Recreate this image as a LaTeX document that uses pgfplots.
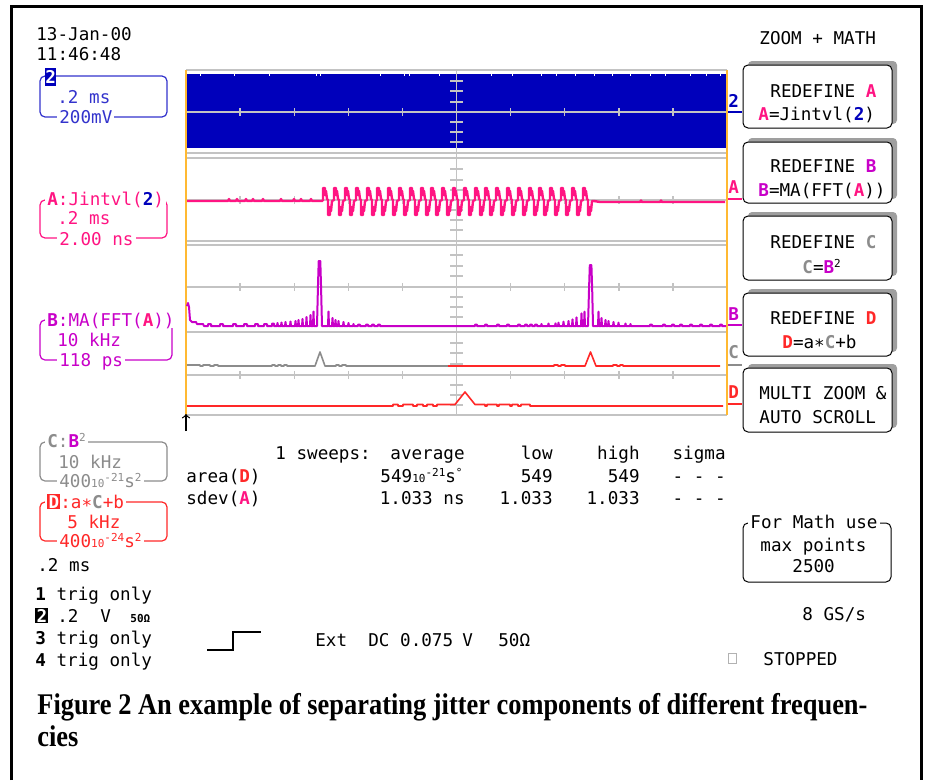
\documentclass[border=0pt]{standalone}
\usepackage{pgfplots}
\pgfplotsset{compat=1.18}
\usepackage{fontspec}
\setmainfont{DejaVu Sans Mono}
\newfontfamily\capfont[FakeStretch=0.88]{Liberation Serif}

\definecolor{chtwo}{RGB}{0,0,187}
\definecolor{labtwo}{RGB}{51,51,204}
\definecolor{cha}{RGB}{255,20,130}
\definecolor{chbp}{RGB}{200,0,200}
\definecolor{chc}{RGB}{140,140,140}
\definecolor{chd}{RGB}{255,40,40}
\definecolor{orng}{RGB}{255,185,50}
\definecolor{grd}{RGB}{195,195,195}

\newcommand{\bA}{{\bfseries\color{cha}A}}
\newcommand{\bB}{{\bfseries\color{chbp}B}}
\newcommand{\bC}{{\bfseries\color{chc}C}}
\newcommand{\bD}{{\bfseries\color{chd}D}}
\newcommand{\btwo}{{\bfseries\color{chtwo}2}}
\newcommand{\sm}[1]{{\fontsize{5.5}{6}\selectfont #1}}
\newcommand{\sps}[1]{\raisebox{2.8pt}{\sm{#1}}}
\newcommand{\inv}[2]{\colorbox{#1}{\color{white}\bfseries #2}}
\setlength{\fboxsep}{0.6pt}

% one screen pixel = one data unit, y downwards
\pgfplotsset{scr/.style={at={(0,0)}, anchor=north west, scale only axis,
  width=463.5pt, height=390pt, xmin=0, xmax=927, ymin=0, ymax=780,
  y dir=reverse, hide axis, clip=false}}

\begin{document}
\fontsize{8.8}{10}\selectfont
\begin{tikzpicture}

% channel 2: the dense signal fills its panel
\begin{axis}[scr]
\addplot[fill=chtwo, draw=none] coordinates {(187,74)(726,74)(726,148)(187,148)} -- cycle;
\end{axis}

\begin{scope}[x=0.5pt,y=-0.5pt]
\path (0,0) rectangle (927,780);
\draw[line width=1.5pt] (11,780) -- (11,6) -- (921,6) -- (921,780);
% small gaps in the top of the channel 2 envelope
\foreach \xx in {200,234,269,316,320,380,404,409,439,491,512,541,556,575,594,612,630,650,665,690,706,720}
  \draw[white, line width=0.5pt] (\xx,74) -- (\xx,76);
% panel frames
\foreach \yy in {70,153,158,241,245,332,415}
  \draw[grd, line width=1pt] (186,\yy) -- (727,\yy);
% centre lines with division ticks
\foreach \yy in {112,200,287,375} {
  \draw[grd, line width=0.7pt] (186,\yy) -- (727,\yy);
  \foreach \xx in {240.1,294.2,348.3,402.4,510.6,564.7,618.8,672.9}
    \draw[grd, line width=0.7pt] (\xx,\yy-4) -- (\xx,\yy+4);
}
\draw[grd, line width=0.7pt] (456.5,70) -- (456.5,415);
\foreach \yy in {81,91,102,122,132,142,169,180,190,210,220,230,255,266,276,297,307,317,343,353,364,385,395,405}
  \draw[grd, line width=0.7pt] (450,\yy) -- (463,\yy);
\draw[orng, line width=1pt] (186,70) -- (186,415);
\draw[orng, line width=1pt] (727,70) -- (727,415);
\end{scope}

\begin{axis}[scr]
% A: Jintvl(2)
\addplot[cha, line width=1.2pt, line join=round] coordinates {
(187,201)(228,201)(229,199)(230,201)(236,201)(237,199)(238,201)(245,201)(246,199)(247,201)
(252,201)(253,199)(254,201)(262,201)(263,199)(264,201)(280,201)(281,199)(282,201)(293,201)
(294,199)(295,201)(300,201)(301,199)(302,201)(310,201)(311,199)(312,201)(322,201)
(323,200)(323,188)(325,188)(325,195)(326,191)(327,199)(328,200)(328,215)(330,215)(330,207)(331,211)(332,201)
(334,200)(334,188)(336,188)(336,195)(337,191)(338,199)(339,200)(339,215)(341,215)(341,207)(342,211)(343,201)
(345,200)(345,188)(347,188)(347,195)(348,191)(349,199)(350,200)(350,215)(352,215)(352,207)(353,211)(354,201)
(356,200)(356,188)(358,188)(358,195)(359,191)(360,199)(361,200)(361,215)(363,215)(363,207)(364,211)(365,201)
(367,200)(367,188)(369,188)(369,195)(370,191)(371,199)(372,200)(372,215)(374,215)(374,207)(375,211)(376,201)
(377,200)(377,188)(379,188)(379,195)(380,191)(381,199)(382,200)(382,215)(384,215)(384,207)(385,211)(386,201)
(388,200)(388,188)(390,188)(390,195)(391,191)(392,199)(393,200)(393,215)(395,215)(395,207)(396,211)(397,201)
(399,200)(399,188)(401,188)(401,195)(402,191)(403,199)(404,200)(404,215)(406,215)(406,207)(407,211)(408,201)
(410,200)(410,188)(412,188)(412,195)(413,191)(414,199)(415,200)(415,215)(417,215)(417,207)(418,211)(419,201)
(421,200)(421,188)(423,188)(423,195)(424,191)(425,199)(426,200)(426,215)(428,215)(428,207)(429,211)(430,201)
(431,200)(431,188)(433,188)(433,195)(434,191)(435,199)(436,200)(436,215)(438,215)(438,207)(439,211)(440,201)
(442,200)(442,188)(444,188)(444,195)(445,191)(446,199)(447,200)(447,215)(449,215)(449,207)(450,211)(451,201)
(453,200)(453,188)(455,188)(455,195)(456,191)(457,199)(458,200)(458,215)(460,215)(460,207)(461,211)(462,201)
(464,200)(464,188)(466,188)(466,195)(467,191)(468,199)(469,200)(469,215)(471,215)(471,207)(472,211)(473,201)
(475,200)(475,188)(477,188)(477,195)(478,191)(479,199)(480,200)(480,215)(482,215)(482,207)(483,211)(484,201)
(485,200)(485,188)(487,188)(487,195)(488,191)(489,199)(490,200)(490,215)(492,215)(492,207)(493,211)(494,201)
(496,200)(496,188)(498,188)(498,195)(499,191)(500,199)(501,200)(501,215)(503,215)(503,207)(504,211)(505,201)
(507,200)(507,188)(509,188)(509,195)(510,191)(511,199)(512,200)(512,215)(514,215)(514,207)(515,211)(516,201)
(518,200)(518,188)(520,188)(520,195)(521,191)(522,199)(523,200)(523,215)(525,215)(525,207)(526,211)(527,201)
(529,200)(529,188)(531,188)(531,195)(532,191)(533,199)(534,200)(534,215)(536,215)(536,207)(537,211)(538,201)
(539,200)(539,188)(541,188)(541,195)(542,191)(543,199)(544,200)(544,215)(546,215)(546,207)(547,211)(548,201)
(550,200)(550,188)(552,188)(552,195)(553,191)(554,199)(555,200)(555,215)(557,215)(557,207)(558,211)(559,201)
(561,200)(561,188)(563,188)(563,195)(564,191)(565,199)(566,200)(566,215)(568,215)(568,207)(569,211)(570,201)
(572,200)(572,188)(574,188)(574,195)(575,191)(576,199)(577,200)(577,215)(579,215)(579,207)(580,211)(581,201)
(583,200)(583,188)(585,188)(585,195)(586,191)(587,199)(588,200)(588,215)(590,215)(590,207)(591,211)(592,201)
(594,201)(600,202)(640,202)(641,200.5)(642,202)(660,202)(661,200.5)(662,202)(725,202)
};
% B: MA(FFT(A))
\addplot[chbp, line width=1pt, line join=round] coordinates {
(187,306)(188,303)(189,307)(190,320)(192,322)(196,322)(197,324)(203,324)(204,326)
(208,326)(208,324)(211,324)(211,326)(220,326)(220,324)(223,324)(223,326)(233,326)(233,324)(236,324)(236,326)
(244,326)(244,324)(247,324)(247,326)(255,326)(255,324)(258,324)(258,326)(264,326)(264,324)(267,324)(267,326)
(272,326)(272,323.5)(274,323.5)(274,326)
(277,326)(277.5,323)(278,326)(281,326)(281.5,322.5)(282,326)(285,326)(285.5,322)(286,326)
(290,326)(290.5,321.5)(291,326)(295,326)(295.5,321)(296,326)(298,326)(298.5,320)(299,326)
(302,326)(302.5,319)(303,326)(306,326)(306.5,317)(307,326)(310,326)(310.5,315)(311,326)
(313,326)(313.5,311.5)(314,326)
(317,326)(318,285)(318.7,261)(320.3,261)(321,285)(322,326)
(328,326)(328.5,311.5)(329,326)(332,326)(332.5,318)(333,326)(335,326)(335.5,320)(336,326)
(338,326)(338.5,321)(339,326)(343,326)(343.5,322)(344,326)(348,326)(348.5,323)(349,326)
(353,326)(353.5,324)(354,326)
(358,326)(358,324.5)(360,324.5)(360,326)(366,326)(366,324.5)(368,324.5)(368,326)
(372,326)(372,324.5)(374,324.5)(374,326)(378,326)(378,324.5)(380,324.5)(380,326)
(475,326)(475,324.5)(477,324.5)(477,326)(485,326)(485,324.5)(487,324.5)(487,326)
(497,326)(497,324.5)(499,324.5)(499,326)(507,326)(507,324.5)(509,324.5)(509,326)
(518,326)(518,324.5)(520,324.5)(520,326)(525,326)(525,324.5)(527,324.5)(527,326)
(530,326)(530,324.5)(532,324.5)(532,326)(535,326)(535,324.5)(537,324.5)(537,326)
(541,326)(541.5,324)(542,326)(548,326)(548.5,323.5)(549,326)(555,326)(555.5,323.3)(556,326)
(558,326)(558.5,322.7)(559,326)(563,326)(563.5,321.7)(564,326)(568,326)(568.5,321)(569,326)
(572,326)(572.5,319.3)(573,326)(576,326)(576.5,317.3)(577,326)(581,326)(581.5,313.3)(582,326)
(584,326)(584.5,311.7)(585,326)
(588,326)(589,290)(589.8,265)(591.4,265)(592.2,290)(593,326)
(598,326)(598.5,311.7)(599,326)(601,326)(601.5,318)(602,326)(605,326)(605.5,320)(606,326)
(608,326)(608.5,321)(609,326)(613,326)(613.5,322)(614,326)(618,326)(618.5,322.7)(619,326)
(625,326)(625.5,323.5)(626,326)(630,326)(630.5,324)(631,326)
(650,326)(650,324.5)(652,324.5)(652,326)(663,326)(663,324.5)(665,324.5)(665,326)
(672,326)(672,324.5)(674,324.5)(674,326)(680,326)(680,324.5)(682,324.5)(682,326)
(690,326)(690,324.5)(692,324.5)(692,326)(700,326)(700,324.5)(702,324.5)(702,326)
(710,326)(710,324.5)(712,324.5)(712,326)(720,326)(720,324.5)(722,324.5)(722,326)(726,326)
};
% C = B^2 (left half), continued in red
\addplot[chc, line width=0.8pt, line join=round] coordinates {
(187,365)(200,365)(200,366)(203,366)(203,365)(210,365)(210,366)(214,366)(214,365)(218,365)(218,366)
(272,366)(272,365)(275,365)(275,366)(278,366)(278,365)(281,365)(281,366)(284,366)(284,365)(287,365)(287,366)
(315,366)(320,352)(325,366)(336,366)(336,365)(339,365)(339,366)(342,366)(342,365)(346,365)(346,366)(448,366)
};
\addplot[chd, line width=0.8pt, line join=round] coordinates {
(448,366)(554,366)(554,365)(558,365)(558,366)(561,366)(561,365)(565,365)(565,366)
(585,366)(590.5,352)(596,366)(613,366)(613,365)(617,365)(617,366)(620,366)(620,365)(623,365)(623,366)(720,366)
};
% D = a*C+b
\addplot[chd, line width=0.8pt, line join=round] coordinates {
(187,406)(393,406)(393,404.5)(398,404.5)(398,406)(403,406)(403,404.5)(413,404.5)(413,406)
(417,406)(417,404.5)(423,404.5)(423,406)(427,406)(427,404.5)(433,404.5)(433,406)(437,406)(437,404.5)
(455,404.5)(465,392)(475,404.5)(485,404.5)(485,406)(487,406)(487,404.5)(497,404.5)(497,406)
(499,406)(499,404.5)(510,404.5)(510,406)(512,406)(512,404.5)(518,404.5)(518,406)(521,406)(521,404.5)
(530,404.5)(530,406)(723,406)
};
\end{axis}

\begin{scope}[x=0.5pt,y=-0.5pt,every node/.style={inner sep=0pt}]
% date and time
\node[anchor=base west] at (36,40) {13-Jan-00};
\node[anchor=base west] at (36,61) {11:46:48};
% trace label boxes
\draw[labtwo,line width=0.6pt,rounded corners=2.5pt] (40,76) rectangle (167,117);
\node[anchor=north west,fill=chtwo,text=white,font=\bfseries,minimum width=5pt,minimum height=9pt] at (45,68) {2};
\node[anchor=base west,text=labtwo] at (57,103) {.2 ms};
\node[anchor=base west,text=labtwo,fill=white,inner xsep=1pt] at (57,123) {200mV};

\draw[cha,line width=0.6pt,rounded corners=2.5pt] (40,200) rectangle (167,238);
\node[anchor=base west,text=cha,fill=white,inner xsep=1pt] at (45,205) {\bA:Jintvl(\btwo)};
\node[anchor=base west,text=cha] at (57,224) {.2 ms};
\node[anchor=base west,text=cha,fill=white,inner xsep=1pt] at (57,245) {2.00 ns};

\draw[chbp,line width=0.6pt,rounded corners=2.5pt] (40,320) rectangle (172,360);
\node[anchor=base west,text=chbp,fill=white,inner xsep=1pt] at (45,326) {\bB:MA(FFT(\bA))};
\node[anchor=base west,text=chbp] at (57,346) {10 kHz};
\node[anchor=base west,text=chbp,fill=white,inner xsep=1pt] at (57,366) {118 ps};

\draw[chc,line width=0.6pt,rounded corners=2.5pt] (40,442) rectangle (167,481);
\node[anchor=base west,text=chc,fill=white,inner xsep=1pt] at (45,447) {\bC:\bB\sps{2}};
\node[anchor=base west,text=chc] at (58,468) {10 kHz};
\node[anchor=base west,text=chc,fill=white,inner xsep=1pt] at (57,487) {400\sm{10}\sps{-21}s\sps{2}};

\draw[chd,line width=0.6pt,rounded corners=2.5pt] (40,502) rectangle (167,541);
\node[anchor=base west,text=chd,fill=white,inner xsep=1pt] at (45,508) {\inv{chd}{D}:a∗\bC+b};
\node[anchor=base west,text=chd] at (67,528) {5 kHz};
\node[anchor=base west,text=chd,fill=white,inner xsep=1pt] at (57,547) {400\sm{10}\sps{-24}s\sps{2}};

\node[anchor=base west] at (37,571) {.2 ms};
% channel list
\node[anchor=base west] at (35,600) {\textbf{1}\ trig only};
\node[anchor=base west] at (35,622) {\inv{black}{2}};
\node[anchor=base west] at (57,622) {.2};
\node[anchor=base west] at (100,622) {V};
\node[anchor=base west] at (130,622) {\sm{\bfseries 50Ω}};
\node[anchor=base west] at (35,644) {\textbf{3}\ trig only};
\node[anchor=base west] at (35,666) {\textbf{4}\ trig only};

% trigger
\draw[->,line width=0.6pt] (186,431) -- (186,414);
\draw[line width=0.8pt] (207,650) -- (233,650) -- (233,632) -- (261,632);
\node[anchor=base west] at (315,646) {Ext\ \ DC 0.075};
\node[anchor=base west] at (462,646) {V};
\node[anchor=base west] at (498,646) {50Ω};

% measurements
\node[anchor=base west] at (275,459) {1 sweeps:};
\node[anchor=base east] at (465,459) {average};
\node[anchor=base east] at (553,459) {low};
\node[anchor=base east] at (640,459) {high};
\node[anchor=base east] at (726,459) {sigma};
\node[anchor=base west] at (186,482) {area(\bD)};
\node[anchor=base east] at (463,482) {549\sm{10}\sps{-21}s\sps{°}};
\node[anchor=base east] at (553,482) {549};
\node[anchor=base east] at (640,482) {549};
\node[anchor=base east] at (726,482) {- - -};
\node[anchor=base west] at (186,504) {sdev(\bA)};
\node[anchor=base east] at (465,504) {1.033 ns};
\node[anchor=base east] at (553,504) {1.033};
\node[anchor=base east] at (640,504) {1.033};
\node[anchor=base east] at (726,504) {- - -};

% trace markers on the right edge
\node[anchor=base west,text=chtwo,font=\bfseries] at (728,107) {2};
\draw[chtwo,line width=1pt] (728,112) -- (742,112);
\node[anchor=base west,text=cha,font=\bfseries] at (728,193) {A};
\draw[cha,line width=1pt] (728,199) -- (742,199);
\node[anchor=base west,text=chbp,font=\bfseries] at (728,320) {B};
\draw[chbp,line width=1pt] (728,325) -- (742,325);
\node[anchor=base west,text=chc,font=\bfseries] at (728,358) {C};
\draw[chc,line width=1pt] (728,365) -- (742,365);
\node[anchor=base west,text=chd,font=\bfseries] at (728,398) {D};
\draw[chd,line width=1pt] (728,404) -- (742,404);

% menu
\node[anchor=base west] at (759,45) {ZOOM + MATH};
\foreach \ya/\yb in {65/128,142/203,216/280,293/356,368/432} {
  \fill[gray!75,rounded corners=2pt] (748,\ya-4) rectangle (897,\yb-4);
  \draw[fill=white,line width=0.5pt,rounded corners=2.5pt] (743,\ya) rectangle (892,\yb);
}
\node[anchor=base west] at (770,97) {REDEFINE \bA};
\node[anchor=base west] at (758,120) {\bA=Jintvl(\btwo)};
\node[anchor=base west] at (770,172) {REDEFINE \bB};
\node[anchor=base west] at (758,196) {\bB=MA(FFT(\bA))};
\node[anchor=base west] at (770,248) {REDEFINE \bC};
\node[anchor=base west] at (802,273) {\bC=\bB\sps{2}};
\node[anchor=base west] at (770,324) {REDEFINE \bD};
\node[anchor=base west] at (782,348) {\bD=a∗\bC+b};
\node[anchor=base west] at (759,399) {MULTI ZOOM \&};
\node[anchor=base west] at (759,423) {AUTO SCROLL};

\draw[line width=0.5pt,rounded corners=2.5pt] (743,523) rectangle (891,582);
\node[anchor=base west,fill=white,inner xsep=1pt] at (748,528) {For Math use};
\node[anchor=base west] at (760,551) {max points};
\node[anchor=base west] at (792,572) {2500};
\node[anchor=base west] at (802,620) {8 GS/s};
\draw[gray!60,line width=0.5pt] (728,653) rectangle (736,663);
\node[anchor=base west] at (763,665) {STOPPED};

% caption
\node[anchor=base west,font=\capfont\bfseries\fontsize{15}{17}\selectfont] at (37,714)
  {Figure 2 An example of separating jitter components of different frequen-};
\node[anchor=base west,font=\capfont\bfseries\fontsize{15}{17}\selectfont] at (37,746) {cies};
\end{scope}
\end{tikzpicture}
\end{document}
